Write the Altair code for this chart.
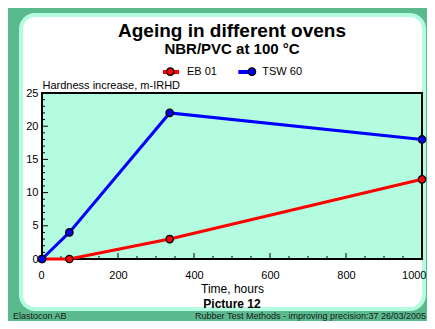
import altair as alt
import pandas as pd

# ---- data ----
hours = [0, 72, 336, 1000]
eb01 = [0, 0, 3, 12]
tsw60 = [0, 4, 22, 18]
series_names = ["EB 01", "TSW 60"]
series_colors = ["#ff0000", "#0000ff"]
x_label_values = [0, 200, 400, 600, 800, 1000]
x_major_ticks = [0, 200, 400, 600, 800, 1000]
x_minor_ticks = [v for v in range(50, 1000, 50) if v % 200 != 0]
y_label_values = [0, 5, 10, 15, 20, 25]
y_major_ticks = [0, 5, 10, 15, 20, 25]
y_minor_ticks = [v for v in range(1, 25) if v % 5 != 0]

title_text = "Ageing in different ovens"
subtitle_text = "NBR/PVC at 100 °C"
x_title = "Time, hours"
y_title = "Hardness increase, m-IRHD"
caption_text = "Picture 12"
footer_left = "Elastocon AB"
footer_right = "Rubber Test Methods - improving precision:37  26/03/2005"

series_col = [series_names[0]] * len(hours) + [series_names[1]] * len(hours)
df = pd.DataFrame({
    "hours": hours + hours,
    "value": eb01 + tsw60,
    "series": series_col,
    "series_pt": series_col,
})

W, H = 380, 166
GREEN = "#5ab98d"
MINT = "#b3fcdf"
FONT = "Liberation Sans"

x_scale = alt.Scale(domain=[0, 1000], nice=False, zero=True)
y_scale = alt.Scale(domain=[0, 25], nice=False, zero=True)

one = pd.DataFrame({"k": [0]})

panel = alt.Chart(one).mark_rect(
    fill="white", stroke=MINT, strokeWidth=4, cornerRadius=14
).encode(
    x=alt.value(-21), x2=alt.value(382), y=alt.value(-78), y2=alt.value(216)
)

plot_bg = alt.Chart(one).mark_rect(
    fill=MINT, stroke="black", strokeWidth=2
).encode(
    x=alt.value(0), x2=alt.value(W), y=alt.value(0), y2=alt.value(H)
)


def x_ticks(values, length):
    return alt.Chart(pd.DataFrame({"v": values})).mark_rule(
        color="black", strokeWidth=1
    ).encode(
        x=alt.X("v:Q", scale=x_scale, axis=None),
        y=alt.value(H), y2=alt.value(H - length),
    )


def y_ticks(values, length):
    return alt.Chart(pd.DataFrame({"v": values})).mark_rule(
        color="black", strokeWidth=1
    ).encode(
        y=alt.Y("v:Q", scale=y_scale, axis=None),
        x=alt.value(0), x2=alt.value(length),
    )


ticks = [x_ticks(x_major_ticks, 6), x_ticks(x_minor_ticks, 3),
         y_ticks(y_major_ticks, 6), y_ticks(y_minor_ticks, 3)]

lines = alt.Chart(df).mark_line(strokeWidth=3).encode(
    x=alt.X("hours:Q", scale=x_scale, axis=alt.Axis(
        orient="bottom", values=x_label_values, format="d", ticks=False,
        domain=False, grid=False, labelFontSize=11, labelPadding=10,
        labelFlush=True, labelFlushOffset=4, labelColor="black",
        title=x_title, titleFontSize=12,
        titleFontWeight="normal", titleColor="black", titleY=33.5,
        titleBaseline="alphabetic", zindex=1)),
    y=alt.Y("value:Q", scale=y_scale, axis=alt.Axis(
        orient="left", values=y_label_values, ticks=False, domain=False,
        grid=False, labelFontSize=11, labelPadding=4, labelColor="black",
        title=y_title, titleAngle=0, titleAlign="left", titleX=0, titleY=-5,
        titleBaseline="alphabetic", titleFontSize=11, titleFontWeight="normal",
        titleColor="black", zindex=1)),
    stroke=alt.Stroke("series:N", scale=alt.Scale(range=series_colors),
        legend=alt.Legend(
            orient="none", legendX=119, legendY=-31, direction="horizontal",
            title=None, symbolType="stroke", symbolSize=256, symbolStrokeWidth=4,
            labelFontSize=11, labelOffset=6, columnPadding=13.3,
            labelColor="black", padding=0)),
)

points = alt.Chart(df).mark_circle(
    size=55, stroke="black", strokeWidth=1.3, opacity=1
).encode(
    x=alt.X("hours:Q", scale=x_scale, axis=None),
    y=alt.Y("value:Q", scale=y_scale, axis=None),
    fill=alt.Fill("series_pt:N", scale=alt.Scale(range=series_colors),
        legend=alt.Legend(
            orient="none", legendX=123.3, legendY=-26.7, direction="horizontal",
            title=None, symbolType="circle", symbolSize=55,
            symbolStrokeColor="black", symbolStrokeWidth=1.3,
            labelExpr="''", labelOffset=0, columnPadding=67.6, padding=0)),
)


def note(text, x, y, size, weight="normal", align="center", color="black"):
    return alt.Chart(pd.DataFrame({"t": [text]})).mark_text(
        fontSize=size, fontWeight=weight, align=align, baseline="alphabetic",
        color=color, font=FONT
    ).encode(text="t:N", x=alt.value(x), y=alt.value(y))


title_mark = note(title_text, 190, -55.7, 19, "bold")
subtitle_mark = note(subtitle_text, 190, -38.7, 15, "bold")
caption = note(caption_text, 190, 215.3, 12, "bold")
foot_l = note(footer_left, -29, 226, 9, align="left", color="#1a1a1a")
foot_r = note(footer_right, 384, 226, 9, align="right", color="#1a1a1a")

chart = alt.layer(
    panel, plot_bg, *ticks, lines, points, title_mark, subtitle_mark,
    caption, foot_l, foot_r
).resolve_scale(
    x="shared", y="shared"
).resolve_axis(
    x="independent", y="independent"
).properties(
    width=W, height=H,
    autosize=alt.AutoSizeParams(type="none"),
    padding={"left": 34, "top": 85, "right": 5, "bottom": 62},
    background=GREEN,
).configure(font=FONT).configure_view(strokeWidth=0)

chart.save("out.html", embed_options={"renderer": "svg", "actions": False})
